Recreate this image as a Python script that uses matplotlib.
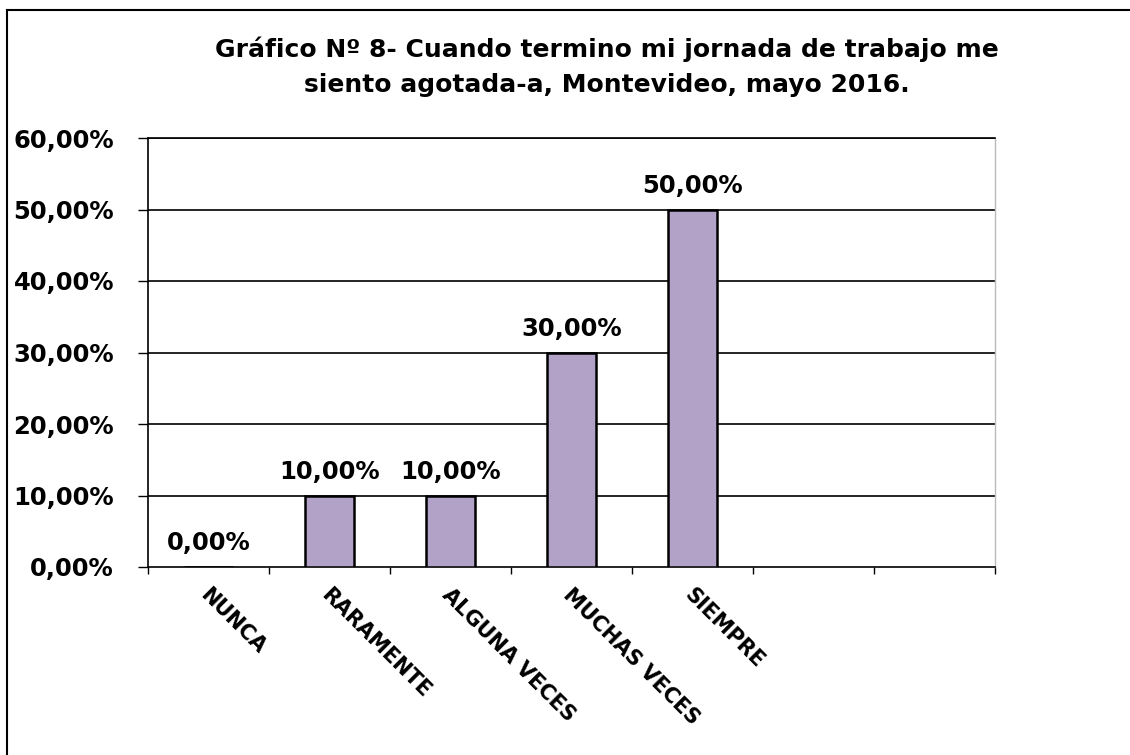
import matplotlib
matplotlib.use("Agg")
import matplotlib.pyplot as plt
from matplotlib.lines import Line2D
import numpy as np

# Data
categories = ["NUNCA", "RARAMENTE", "ALGUNA VECES", "MUCHAS VECES", "SIEMPRE"]
values = [0.0, 10.0, 10.0, 30.0, 50.0]
y_ticks = [0, 10, 20, 30, 40, 50, 60]
title_lines = ["Gráfico Nº 8- Cuando termino mi jornada de trabajo me",
               "siento agotada-a, Montevideo, mayo 2016."]

n_slots = 7  # empty category slots on the right as in the original

plt.rcParams['font.family'] = ['DejaVu Sans']

fig = plt.figure(figsize=(11.3, 7.55), dpi=100)
fig.patch.set_facecolor("white")

W, H = 1130, 755
ax = fig.add_axes([148 / W, 1 - 567 / H, (995 - 148) / W, (567 - 138) / H])

x = np.arange(len(categories))
ax.bar(x, values, width=0.4, color="#B3A2C7", edgecolor="black", linewidth=1.8, zorder=3)

ax.set_xlim(-0.5, n_slots - 0.5)
ax.set_ylim(0, 60)

for yv in y_ticks[1:]:
    ax.axhline(yv, color="black", linewidth=1.2, zorder=1)

ax.set_yticks(y_ticks)
ax.set_yticklabels([f"{v:.2f}".replace(".", ",") + "%" for v in y_ticks],
                   fontsize=17.5, fontweight="bold")
ax.tick_params(axis="y", direction="out", length=7.5, width=1, pad=17)

ax.set_xticks(np.arange(-0.5, n_slots, 1.0))
ax.set_xticklabels([])
ax.tick_params(axis="x", direction="out", length=5, width=1)

for xi, cat in zip(x, categories):
    ax.annotate(cat, xy=(xi, 0), xycoords="data", xytext=(1.5, -12.5),
                textcoords="offset points", rotation=-45, rotation_mode="anchor",
                ha="left", va="top", fontsize=15, fontweight="bold")

for xi, v in zip(x, values):
    ax.annotate(f"{v:.2f}".replace(".", ",") + "%", xy=(xi, v), xytext=(0, 12),
                textcoords="offset points", ha="center", va="baseline",
                fontsize=17.5, fontweight="bold")

for side in ["left", "bottom", "top"]:
    ax.spines[side].set_color("black")
    ax.spines[side].set_linewidth(1.2)
ax.spines["right"].set_color("#BBBBBB")
ax.spines["right"].set_linewidth(1)

fig.text(607 / W, 1 - 57 / H, title_lines[0], ha="center", va="baseline",
         fontsize=18, fontweight="bold")
fig.text(607 / W, 1 - 92 / H, title_lines[1], ha="center", va="baseline",
         fontsize=18, fontweight="bold")

# outer frame
fig.add_artist(Line2D([7 / W, 7 / W], [0, 1 - 10 / H], transform=fig.transFigure,
                      color="black", linewidth=1.5))
fig.add_artist(Line2D([7 / W, 1], [1 - 10 / H, 1 - 10 / H], transform=fig.transFigure,
                      color="black", linewidth=1.5))

fig.savefig("out.png", dpi=100)
